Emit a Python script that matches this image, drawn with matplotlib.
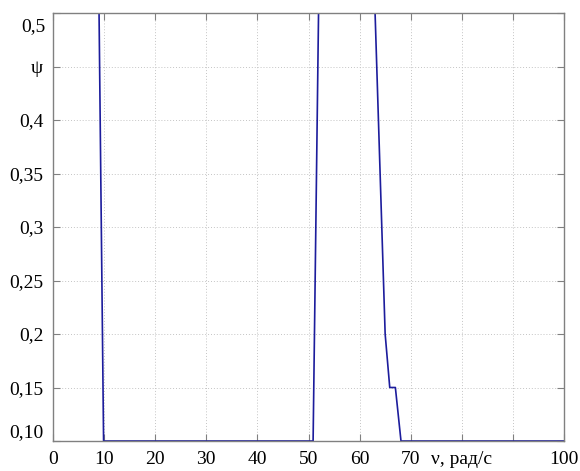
import matplotlib
matplotlib.use("Agg")
import matplotlib.pyplot as plt

# data (values above 0.5 leave the visible range and are clipped)
nu = [0, 8.9, 9.9, 50.9, 52.1, 62.7, 65.0, 65.9, 67.0, 68.1, 100]
psi = [0.55, 0.55, 0.10, 0.10, 0.55, 0.55, 0.20, 0.15, 0.15, 0.10, 0.10]

xticks = [0, 10, 20, 30, 40, 50, 60, 70, 80, 90, 100]
xlabels = ["0", "10", "20", "30", "40", "50", "60", "70", "ν, рад/с", "", "100"]
yticks = [0.10, 0.15, 0.20, 0.25, 0.30, 0.35, 0.40, 0.45, 0.50]
ylabels = ["0,10", "0,15", "0,2", "0,25", "0,3", "0,35", "0,4", "ψ", ""]
top_label = "0,5"

plt.rcParams['font.family'] = ['Liberation Serif', 'DejaVu Serif']
plt.rcParams['font.size'] = 14

fig = plt.figure(figsize=(5.8, 4.71), dpi=100)
ax = fig.add_axes([53/580, 30/471, 511/580, 428/471])
ax.plot(nu, psi, color='#1c1c9c', lw=1.2)
ax.set_xlim(0, 100)
ax.set_ylim(0.10, 0.50)
ax.set_xticks(xticks)
ax.set_xticklabels(xlabels)
ax.set_yticks(yticks)
ax.set_yticklabels(ylabels)
ax.grid(True, linestyle=(0, (1, 2)), color='#c4c4c4', lw=0.7)
ax.tick_params(direction='in', length=5, color='#808080', top=True, right=True,
               pad=7, labelsize=14)
for s in ax.spines.values():
    s.set_color('#808080')
    s.set_linewidth(1.0)
lbls = ax.get_yticklabels()
lbls[0].set_va('bottom')
ax.annotate(top_label, xy=(0, 0.50), xycoords=('axes fraction', 'data'),
            xytext=(-7, -5), textcoords='offset pixels', ha='right', va='top',
            fontsize=14)
fig.savefig("out.png", dpi=100)
